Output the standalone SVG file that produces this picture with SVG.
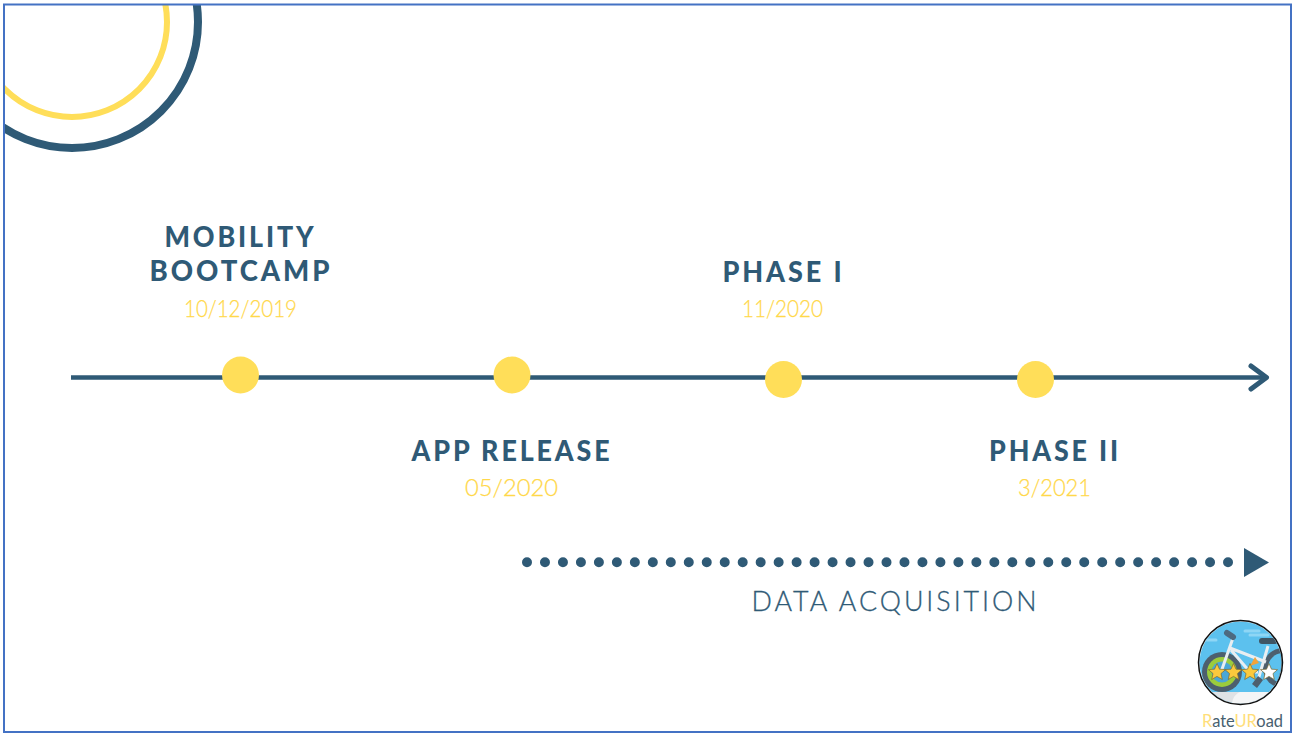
<svg xmlns="http://www.w3.org/2000/svg" width="1295" height="733" viewBox="0 0 1295 733">
<style>
.t{font-family:"Lato","Noto Sans",sans-serif;font-weight:900;font-size:28px;fill:#2f5a76;text-anchor:middle;letter-spacing:3px}
.d{font-family:"Lato","Noto Sans",sans-serif;font-weight:300;font-size:23px;fill:#ffd84a;text-anchor:middle;stroke:#ffd84a;stroke-width:.25px}
.m{fill:#ffde59}
</style>
<defs>
<clipPath id="f"><rect x="4" y="5" width="1287" height="727"/></clipPath>
<clipPath id="lc"><circle cx="1240.5" cy="662.5" r="41"/></clipPath>
<polygon id="s" points="0,-8.500 2.500,-2.800 8.500,-2.400 4,1.600 5.300,7.500 0,4.400 -5.300,7.500 -4,1.600 -8.500,-2.400 -2.500,-2.800"/>
</defs>
<rect width="1295" height="733" fill="#fff"/>
<g id="deco" clip-path="url(#f)" fill="none">
<circle cx="72" cy="22" r="95" stroke="#ffde59" stroke-width="6"/>
<circle cx="72" cy="22" r="126" stroke="#2f5a76" stroke-width="8"/>
</g>
<g id="connectors" fill="none" stroke="#2f5a76">
<path d="M71 377.500H1264" stroke-width="4.500"/>
<path d="M1251 366L1266.500 377.500L1251 389" stroke-width="5" stroke-linecap="round" stroke-linejoin="round"/>
<path d="M527 562.300H1230" stroke-width="10" stroke-linecap="round" stroke-dasharray="0 17.975"/>
<polygon points="1244,548 1269,562.500 1244,577" fill="#2f5a76" stroke="none"/>
</g>
<g id="node-bootcamp">
<circle class="m" cx="240.500" cy="375" r="18.500"/>
<text class="t" x="240.500" y="247" textLength="152" lengthAdjust="spacingAndGlyphs">MOBILITY</text>
<text class="t" x="241" y="281" textLength="183" lengthAdjust="spacingAndGlyphs">BOOTCAMP</text>
<text class="d" x="240.500" y="316.500" textLength="113" lengthAdjust="spacingAndGlyphs">10/12/2019</text>
</g>
<g id="node-release">
<circle class="m" cx="512" cy="375" r="18.500"/>
<text class="t" x="512" y="461" textLength="201" lengthAdjust="spacingAndGlyphs">APP RELEASE</text>
<text class="d" x="511.500" y="495.500" textLength="93" lengthAdjust="spacingAndGlyphs">05/2020</text>
</g>
<g id="node-phase1">
<circle class="m" cx="783.500" cy="379.500" r="18.500"/>
<text class="t" x="783.500" y="282" textLength="122" lengthAdjust="spacingAndGlyphs">PHASE I</text>
<text class="d" x="782.500" y="316.500" textLength="81" lengthAdjust="spacingAndGlyphs">11/2020</text>
</g>
<g id="node-phase2">
<circle class="m" cx="1035.500" cy="379.500" r="18.500"/>
<text class="t" x="1055" y="461" textLength="132" lengthAdjust="spacingAndGlyphs">PHASE II</text>
<text class="d" x="1054.500" y="495.500" textLength="73" lengthAdjust="spacingAndGlyphs">3/2021</text>
</g>
<g id="node-data">
<text x="895.500" y="611" textLength="288" lengthAdjust="spacingAndGlyphs" style="font-family:Lato,'Noto Sans',sans-serif;font-size:27px;font-weight:300;fill:#2f5a76;stroke:#2f5a76;stroke-width:.3px;text-anchor:middle;letter-spacing:3px">DATA ACQUISITION</text>
</g>
<g id="logo">
<g clip-path="url(#lc)">
<rect x="1198" y="620" width="85" height="85" fill="#5cc1ee"/>
<path d="M1245 631h14M1250 635h18M1206 640h10" stroke="#8ed6f5" stroke-width="3" stroke-linecap="round"/>
<path d="M1198 692H1283V705H1198Z" fill="#dfe2e5"/>
<path d="M1232 705c0-6 3-11 8-13H1283V705Z" fill="#f4f5f6"/>
<circle cx="1222" cy="672" r="20" fill="#4d5f6e"/>
<circle cx="1222" cy="672" r="15" fill="#9ccc3c"/>
<circle cx="1222" cy="672" r="10.500" fill="#4aa7d6"/>
<circle cx="1283" cy="668" r="20" fill="#4d5f6e"/>
<circle cx="1283" cy="668" r="15" fill="#5cc1ee"/>
<path d="M1221 672L1233 638M1230 648L1266 662M1268 646L1258 680M1231 650L1250 672H1258" fill="none" stroke="#e9eef1" stroke-width="3"/>
<path d="M1227 633L1233 637" stroke="#4d6a80" stroke-width="6" stroke-linecap="round"/>
<path d="M1262 641h13" stroke="#3f5564" stroke-width="6" stroke-linecap="round"/>
<path d="M1250 666l5-9 4 6z" fill="#f2a33a"/>
<path d="M1252 684l6-8 5 4-6 8z" fill="#4d5f6e"/>
<g fill="#fbc93d" stroke="#7a6a30" stroke-width=".7">
<use href="#s" x="1217" y="672"/><use href="#s" x="1233.500" y="672"/><use href="#s" x="1250" y="672"/><use href="#s" x="1269" y="672" fill="#fff"/>
</g>
</g>
<circle cx="1240.500" cy="662.500" r="42" fill="none" stroke="#111" stroke-width="1.500"/>
<text x="1202" y="727" textLength="81" lengthAdjust="spacingAndGlyphs" style="font-family:Lato,'Noto Sans',sans-serif;font-size:17px;fill:#47606f"><tspan fill="#ffde7a">R</tspan>ate<tspan fill="#ffde7a">UR</tspan>oad</text>
</g>
<rect id="frame" x="4" y="4.500" width="1287" height="727.500" fill="none" stroke="#4472c4" stroke-width="2"/>
</svg>
